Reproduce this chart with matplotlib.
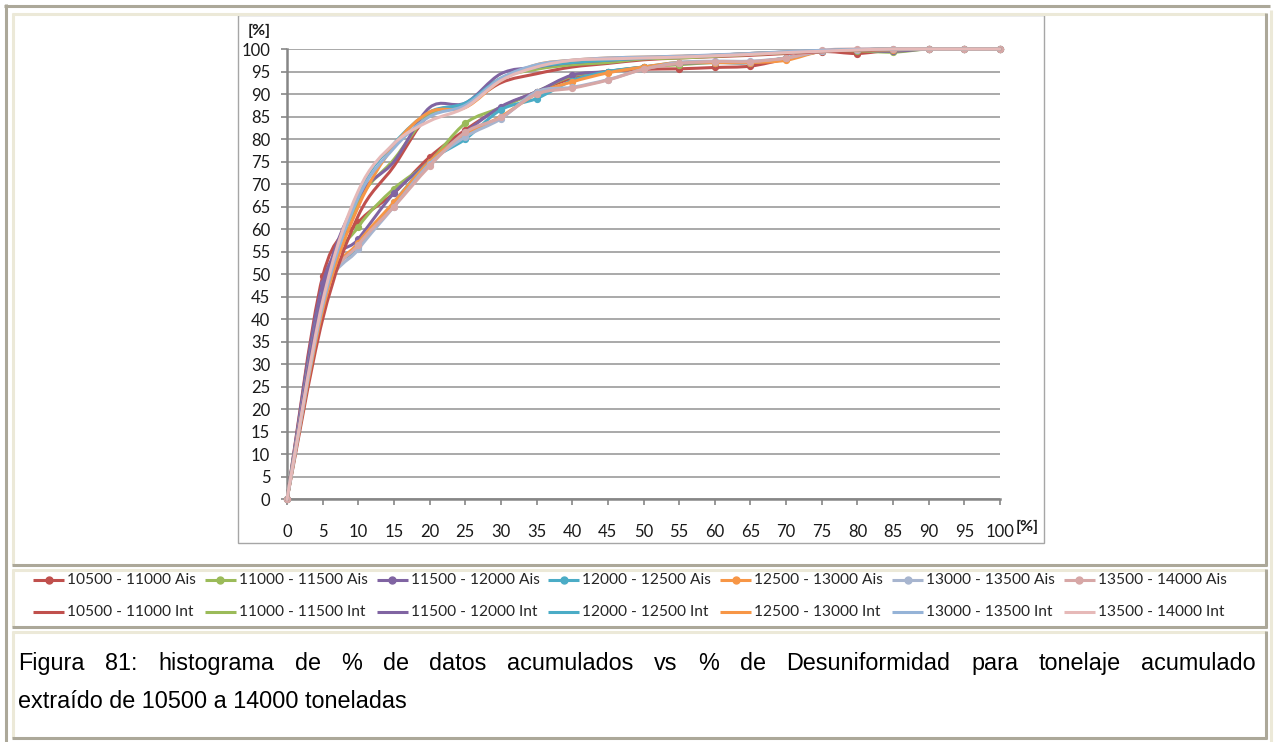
import numpy as np
import matplotlib
matplotlib.use("Agg")
import matplotlib.pyplot as plt
from matplotlib.path import Path
from matplotlib.patches import PathPatch, Rectangle
from matplotlib.lines import Line2D

# ---------------------------------------------------------------- data
x_pct = list(range(0, 101, 5))

ranges = ["10500 - 11000", "11000 - 11500", "11500 - 12000", "12000 - 12500",
          "12500 - 13000", "13000 - 13500", "13500 - 14000"]

ais_10500 = [0, 49.5, 61.5, 68.0, 76.0, 82.0, 87.0, 90.5, 93.5, 95.0, 95.5,
             95.6, 95.9, 96.2, 97.8, 99.4, 99.0, 99.8, 100, 100, 100]
ais_11000 = [0, 46.5, 60.5, 69.0, 75.0, 83.5, 87.0, 90.5, 94.0, 95.0, 96.0,
             96.5, 97.0, 97.0, 98.0, 99.5, 99.6, 99.3, 100, 100, 100]
ais_11500 = [0, 48.0, 57.8, 68.0, 75.0, 81.5, 87.2, 90.5, 94.2, 95.0, 96.0,
             96.8, 97.0, 97.0, 98.0, 99.5, 99.7, 99.5, 100, 100, 100]
ais_12000 = [0, 45.5, 56.0, 66.0, 75.0, 80.0, 86.5, 89.0, 93.0, 95.0, 96.0,
             97.0, 97.0, 97.0, 98.0, 99.5, 99.7, 99.8, 100, 100, 100]
ais_12500 = [0, 45.0, 57.0, 66.0, 75.0, 81.0, 85.0, 90.0, 92.7, 94.7, 96.0,
             97.0, 97.0, 97.0, 97.5, 99.5, 99.7, 99.8, 100, 100, 100]
ais_13000 = [0, 44.0, 55.5, 65.0, 74.5, 80.5, 84.5, 90.5, 91.5, 93.2, 95.5,
             97.0, 97.3, 97.3, 98.0, 99.5, 99.8, 99.9, 100, 100, 100]
ais_13500 = [0, 44.5, 56.5, 65.0, 74.0, 81.5, 84.8, 90.0, 91.3, 93.1, 95.5,
             96.8, 97.2, 97.2, 98.0, 99.7, 100, 100, 100, 100, 100]

int_10500 = [0, 40.0, 63.0, 74.0, 85.5, 87.5, 92.5, 94.5, 96.0, 96.8, 97.6,
             98.0, 98.3, 98.6, 99.0, 99.4, 99.7, 99.9, 100, 100, 100]
int_11000 = [0, 44.0, 66.0, 75.5, 85.5, 87.5, 93.5, 95.5, 96.5, 97.0, 97.8,
             98.0, 98.4, 98.8, 99.2, 99.6, 99.8, 100, 100, 100, 100]
int_11500 = [0, 46.0, 67.0, 75.0, 87.0, 88.0, 94.5, 96.0, 97.0, 97.5, 98.0,
             98.3, 98.6, 99.0, 99.3, 99.6, 99.8, 100, 100, 100, 100]
int_12000 = [0, 43.0, 68.0, 79.0, 86.0, 88.0, 93.5, 96.0, 97.0, 97.5, 98.0,
             98.3, 98.6, 99.0, 99.3, 99.6, 99.8, 100, 100, 100, 100]
int_12500 = [0, 42.0, 65.0, 78.5, 86.0, 87.0, 93.0, 96.5, 97.5, 98.0, 98.2,
             98.4, 98.6, 99.0, 99.3, 99.6, 99.8, 100, 100, 100, 100]
int_13000 = [0, 43.0, 67.0, 78.0, 85.0, 87.5, 93.5, 96.5, 97.5, 98.0, 98.2,
             98.4, 98.7, 99.0, 99.4, 99.7, 99.9, 100, 100, 100, 100]
int_13500 = [0, 44.0, 68.5, 79.0, 84.0, 87.0, 93.0, 96.0, 97.5, 97.8, 98.0,
             98.2, 98.5, 98.8, 99.2, 99.5, 99.8, 100, 100, 100, 100]

ais_series = [ais_10500, ais_11000, ais_11500, ais_12000, ais_12500, ais_13000, ais_13500]
int_series = [int_10500, int_11000, int_11500, int_12000, int_12500, int_13000, int_13500]

ais_colors = ["#C0504D", "#9BBB59", "#8064A2", "#4BACC6", "#F79646", "#A7B5CF", "#D7A7A6"]
int_colors = ["#C0504D", "#9BBB59", "#8064A2", "#4BACC6", "#F79646", "#95B3D7", "#E6B9B8"]

caption_1 = "Figura 81: histograma de % de datos acumulados vs % de Desuniformidad para tonelaje acumulado"
caption_2 = "extraído de 10500 a 14000 toneladas"

# ---------------------------------------------------------------- figure
W, H = 1274, 742
fig = plt.figure(figsize=(W / 100, H / 100), dpi=100)
fig.patch.set_facecolor("white")


def fx(px):
    return px / W


def fy(py):
    return 1 - py / H


GRAY = "#ACA899"
BEIGE = "#ECE9D8"


def hline(y, x0, x1, color, lw):
    fig.add_artist(Line2D([fx(x0), fx(x1)], [fy(y), fy(y)], color=color,
                          lw=lw, solid_capstyle="butt"))


def vline(x, y0, y1, color, lw):
    fig.add_artist(Line2D([fx(x), fx(x)], [fy(y0), fy(y1)], color=color,
                          lw=lw, solid_capstyle="butt"))


# outer frame
hline(6, 4, 1270, GRAY, 2.2)
vline(6, 4, 742, GRAY, 2.2)
# table cells: light top/left edge, dark bottom/right edge
for top, bottom in [(14, 565), (570, 627), (632, 738)]:
    hline(top, 12, 1266, BEIGE, 2.2)
    vline(13, top - 1, bottom, BEIGE, 2.2)
    hline(bottom, 12, 1267, GRAY, 2.2)
    vline(1265.5, top - 1, bottom + 1, GRAY, 2.2)
vline(1271, 10, 742, BEIGE, 2.2)

# chart frame
fig.add_artist(Rectangle((fx(237.5), fy(543)), fx(1044) - fx(237.5), fy(15) - fy(543),
                         fill=False, edgecolor="#A6A6A6", lw=1.0))

# ---------------------------------------------------------------- axes
ax = fig.add_axes([fx(287), fy(499.4), fx(1000) - fx(287), fy(49) - fy(499.4)])
ax.set_xlim(0, 100)
ax.set_ylim(0, 100)
ax.set_facecolor("none")
for s in ["top", "right"]:
    ax.spines[s].set_visible(False)
for s in ["left", "bottom"]:
    ax.spines[s].set_color("#868686")
    ax.spines[s].set_linewidth(1.8)
    ax.spines[s].set_zorder(1)

ax.set_xticks(x_pct)
ax.set_yticks(x_pct)
ax.yaxis.grid(True, color="#A3A3A3", lw=1.3)
ax.set_axisbelow(True)
ax.tick_params(axis="y", direction="out", length=4, width=1.2, color="#868686",
               pad=8, labelsize=12, labelcolor="#1a1a1a")
ax.tick_params(axis="x", direction="out", length=4, width=1.2, color="#868686",
               pad=14, labelsize=12, labelcolor="#1a1a1a")
for lab in ax.get_xticklabels() + ax.get_yticklabels():
    lab.set_family("Lato")


def smooth_path(xs, ys):
    pts = np.column_stack([xs, ys]).astype(float)
    n = len(pts)
    verts = [pts[0]]
    codes = [Path.MOVETO]
    for i in range(n - 1):
        p0 = pts[i - 1] if i > 0 else pts[i]
        p1 = pts[i]
        p2 = pts[i + 1]
        p3 = pts[i + 2] if i + 2 < n else pts[i + 1]
        verts += [p1 + (p2 - p0) / 6, p2 - (p3 - p1) / 6, p2]
        codes += [Path.CURVE4] * 3
    return Path(verts, codes)


for ys, c in zip(ais_series, ais_colors):
    ax.add_patch(PathPatch(smooth_path(x_pct, ys), facecolor="none", edgecolor=c,
                           lw=2.2, clip_on=False, capstyle="round", joinstyle="round",
                           zorder=3))
    ax.plot(x_pct, ys, "o", ms=4.2, color=c, clip_on=False, zorder=3)

for ys, c in zip(int_series, int_colors):
    ax.add_patch(PathPatch(smooth_path(x_pct, ys), facecolor="none", edgecolor=c,
                           lw=2.2, clip_on=False, capstyle="round", joinstyle="round",
                           zorder=3))

# axis unit labels
fig.text(fx(259), fy(31), "[%]", ha="center", va="center", fontsize=11.5,
         fontweight="bold", family="Lato", color="#1a1a1a")
fig.text(fx(1016), fy(527), "[%]", ha="left", va="center", fontsize=11.5,
         fontweight="bold", family="Lato", color="#1a1a1a")

# ---------------------------------------------------------------- legend
col_pitch = 171.8
for i, rng in enumerate(ranges):
    x0 = 33 + col_pitch * i
    for row_y, kind, cols, marker in [(580, "Ais", ais_colors, True),
                                      (612, "Int", int_colors, False)]:
        fig.add_artist(Line2D([fx(x0), fx(x0 + 31)], [fy(row_y), fy(row_y)],
                              color=cols[i], lw=2.2, solid_capstyle="butt"))
        if marker:
            fig.add_artist(Line2D([fx(x0 + 15.5)], [fy(row_y)], color=cols[i],
                                  marker="o", ms=5, lw=0))
        fig.text(fx(x0 + 34), fy(row_y), f"{rng} {kind}", ha="left", va="center",
                 fontsize=11.2, family="Lato", color="#262626")

# ---------------------------------------------------------------- caption
cap_font = dict(family="Liberation Sans", fontsize=16.8, color="black")
words = caption_1.split(" ")
renderer = fig.canvas.get_renderer()
tmp = [fig.text(0, 0, w, **cap_font) for w in words]
widths = [t.get_window_extent(renderer).width for t in tmp]
for t in tmp:
    t.remove()
left, right = 18, 1256
gap = (right - left - sum(widths)) / (len(words) - 1)
xpos = left
for w, wd in zip(words, widths):
    fig.text(fx(xpos), fy(670), w, ha="left", va="baseline", **cap_font)
    xpos += wd + gap
fig.text(fx(18), fy(708), caption_2, ha="left", va="baseline", **cap_font)

fig.savefig("out.png", dpi=100)
